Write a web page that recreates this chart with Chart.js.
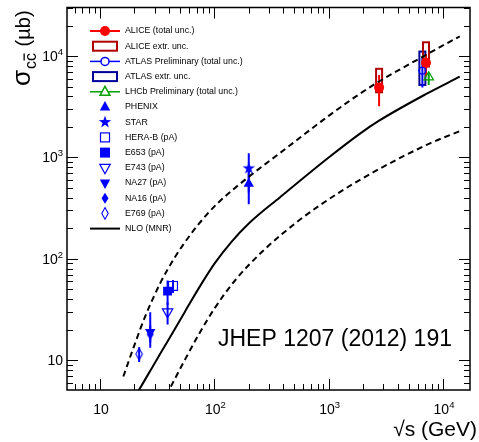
<!DOCTYPE html>
<html><head><meta charset="utf-8">
<script src="https://cdn.jsdelivr.net/npm/chart.js@4.4.0/dist/chart.umd.min.js"></script>
<style>html,body{margin:0;padding:0;background:#fff;}#wrap{width:479px;height:442px;position:relative;}</style>
</head><body><div id="wrap"><canvas id="c" width="479" height="442"></canvas></div>
<script>
// ---- tick labels ----
const xTickValues = [10, 100, 1000, 10000];
const xTickExp = ['', '2', '3', '4'];
const yTickValues = [10, 100, 1000, 10000];
const yTickExp = ['', '2', '3', '4'];

// ---- NLO (MNR) curves: sqrt(s) [GeV], sigma [ub] ----
const nloE = [20, 22.4, 30, 40, 55, 75, 101, 140, 200, 376, 1000, 1880, 2760, 7000, 14000];
const nloCentral = [4.3, 5.3, 9.3, 16.1, 29.8, 53.8, 90.6, 145.5, 223, 406, 1000, 1722, 2307, 4188, 6266];
const nloUpE = [16, 20, 24.8, 33.5, 45, 61, 85, 112, 200, 376, 1000, 1880, 2760, 7000, 14000];
const nloUp = [6.9, 14.1, 26.9, 57, 103, 170, 270, 372, 645, 1109, 2575, 4266, 5623, 10200, 15700];
const nloLoE = [38, 41, 55, 75, 100, 151, 267, 562, 1260, 2760, 7700, 14000];
const nloLo = [4.48, 5.3, 9.98, 18.9, 32.2, 60.8, 120, 244, 458, 769, 1380, 1820];

// ---- measurements ----
const aliceE = [2760, 7100], aliceV = [4900, 8600], aliceLo = [3200, 6300], aliceHi = [6500, 10500];
const aliceExtrLo = [4400, 7900], aliceExtrHi = [7500, 13700];
const atlasE = [6600], atlasV = [7200], atlasLo = [4900], atlasHi = [9600];
const atlasExtrLo = [5200], atlasExtrHi = [11100];
const lhcbE = [7500], lhcbV = [6200], lhcbLo = [5200], lhcbHi = [6900];
const phenixE = [200], phenixV = [550], phenixLo = [345], phenixHi = [760];
const starE = [200], starV = [790], starLo = [450], starHi = [1100];
const herabE = [43.5], herabV = [54], herabLo = [46], herabHi = [62];
const e653E = [39], e653V = [48], e653Lo = [35], e653Hi = [61];
const e743E = [39], e743V = [30], e743Lo = [22.5], e743Hi = [37];
const na27E = [27.5], na27V = [19], na27Lo = [13.3], na27Hi = [29.8];
const na16E = [27.5], na16V = [18], na16Lo = [15], na16Hi = [22];
const e769E = [22], e769V = [11.5], e769Lo = [9.6], e769Hi = [13.4];

const legendLabels = ['ALICE (total unc.)', 'ALICE extr. unc.', 'ATLAS Preliminary (total unc.)', 'ATLAS extr. unc.',
  'LHCb Preliminary (total unc.)', 'PHENIX', 'STAR', 'HERA-B (pA)', 'E653 (pA)', 'E743 (pA)', 'NA27 (pA)',
  'NA16 (pA)', 'E769 (pA)', 'NLO (MNR)'];

const BLUE = '#0000ff', RED = '#ff0000', DRED = '#b00000', NAVY = '#000099', GREEN = '#00a000';
const FONT = '"Liberation Sans", Arial, sans-serif';

function starPath(ctx, x, y, ro, ri) {
  ctx.beginPath();
  for (let i = 0; i < 10; i++) {
    const r = i % 2 ? ri : ro, a = -Math.PI / 2 + i * Math.PI / 5;
    ctx.lineTo(x + r * Math.cos(a), y + r * Math.sin(a));
  }
  ctx.closePath();
}
function diamondPath(ctx, x, y, hw, hh) {
  ctx.beginPath(); ctx.moveTo(x, y - hh); ctx.lineTo(x + hw, y); ctx.lineTo(x, y + hh); ctx.lineTo(x - hw, y); ctx.closePath();
}
function makeImg(w, h, fn) { const c = document.createElement('canvas'); c.width = w; c.height = h; fn(c.getContext('2d'), w / 2, h / 2); return c; }
const starImg = makeImg(14, 14, (g, cx, cy) => { g.fillStyle = BLUE; starPath(g, cx, cy + 0.5, 6.5, 2.6); g.fill(); });
const diaFillImg = makeImg(10, 14, (g, cx, cy) => { g.fillStyle = BLUE; diamondPath(g, cx, cy, 3.5, 5.5); g.fill(); });
const diaOpenImg = makeImg(10, 14, (g, cx, cy) => { g.strokeStyle = BLUE; g.lineWidth = 1.1; diamondPath(g, cx, cy, 3.2, 5.8); g.stroke(); });

const pts = (E, V) => E.map((x, i) => ({ x, y: V[i] }));
function pds(label, E, V, lo, hi, style, extra) {
  return Object.assign({ label, data: pts(E, V), showLine: false, errLo: lo, errHi: hi, errColor: style.errColor || BLUE, errWidth: 2 },
    { pointStyle: style.ps, pointRadius: style.r, pointHoverRadius: style.r, pointRotation: style.rot || 0,
      pointBackgroundColor: style.fill, pointBorderColor: style.stroke, pointBorderWidth: style.bw || 0 }, extra || {});
}
const datasets = [
  pds('ALICE', aliceE, aliceV, aliceLo, aliceHi, { ps: 'circle', r: 5, fill: RED, stroke: RED, errColor: RED }, { boxLo: aliceExtrLo, boxHi: aliceExtrHi, boxColor: DRED, boxOrder: 2 }),
  pds('ATLAS', atlasE, atlasV, atlasLo, atlasHi, { ps: 'circle', r: 3.5, fill: 'rgba(255,255,255,0)', stroke: BLUE, bw: 1.3 }, { boxLo: atlasExtrLo, boxHi: atlasExtrHi, boxColor: NAVY, boxOrder: 1 }),
  pds('LHCb', lhcbE, lhcbV, lhcbLo, lhcbHi, { ps: 'triangle', r: 5.5, fill: 'rgba(255,255,255,0)', stroke: GREEN, bw: 1.2, errColor: GREEN }),
  pds('PHENIX', phenixE, phenixV, phenixLo, phenixHi, { ps: 'triangle', r: 6, fill: BLUE, stroke: BLUE }),
  pds('STAR', starE, starV, starLo, starHi, { ps: starImg, r: 6, fill: BLUE, stroke: BLUE }),
  pds('HERA-B', herabE, herabV, herabLo, herabHi, { ps: 'rect', r: 6.3, fill: 'rgba(255,255,255,0)', stroke: BLUE, bw: 1.2 }),
  pds('E653', e653E, e653V, e653Lo, e653Hi, { ps: 'rect', r: 6.3, fill: BLUE, stroke: BLUE }),
  pds('E743', e743E, e743V, e743Lo, e743Hi, { ps: 'triangle', r: 6, rot: 180, fill: 'rgba(255,255,255,0)', stroke: BLUE, bw: 1.2 }),
  pds('NA27', na27E, na27V, na27Lo, na27Hi, { ps: 'triangle', r: 6, rot: 180, fill: BLUE, stroke: BLUE }),
  pds('NA16', na16E, na16V, na16Lo, na16Hi, { ps: diaFillImg, r: 5, fill: BLUE, stroke: BLUE }),
  pds('E769', e769E, e769V, e769Lo, e769Hi, { ps: diaOpenImg, r: 5, fill: BLUE, stroke: BLUE }),
  { label: 'NLO', data: pts(nloE, nloCentral), showLine: true, borderColor: '#000', borderWidth: 2, pointRadius: 0, cubicInterpolationMode: 'monotone' },
  { label: 'NLO up', data: pts(nloUpE, nloUp), showLine: true, borderColor: '#000', borderWidth: 2, borderDash: [6, 4], pointRadius: 0, cubicInterpolationMode: 'monotone' },
  { label: 'NLO low', data: pts(nloLoE, nloLo), showLine: true, borderColor: '#000', borderWidth: 2, borderDash: [6, 4], pointRadius: 0, cubicInterpolationMode: 'monotone' }
];

function drawLabel(ctx, base, exp, x, y, align) {
  ctx.font = '14px ' + FONT;
  const wb = ctx.measureText(base).width;
  ctx.font = '9.5px ' + FONT;
  const we = exp ? ctx.measureText(exp).width : 0;
  const tot = wb + we;
  let sx = align === 'center' ? x - tot / 2 : x - tot;
  ctx.textAlign = 'left'; ctx.textBaseline = 'alphabetic';
  ctx.font = '14px ' + FONT; ctx.fillText(base, sx, y);
  if (exp) { ctx.font = '9.5px ' + FONT; ctx.fillText(exp, sx + wb, y - 6); }
}

const errPlugin = {
  id: 'errs',
  beforeDatasetsDraw(chart) {
    const ctx = chart.ctx, xs = chart.scales.x, ys = chart.scales.y, a = chart.chartArea;
    ctx.save();
    ctx.beginPath(); ctx.rect(a.left, a.top, a.right - a.left, a.bottom - a.top); ctx.clip();
    const list = chart.data.datasets.filter(d => d.errLo);
    list.sort((p, q) => (p.boxOrder || 0) - (q.boxOrder || 0));
    for (const d of list) {
      d.data.forEach((p, k) => {
        const px = xs.getPixelForValue(p.x);
        if (d.boxLo) {
          const t = ys.getPixelForValue(d.boxHi[k]), b = ys.getPixelForValue(d.boxLo[k]);
          ctx.strokeStyle = d.boxColor; ctx.lineWidth = 2;
          ctx.strokeRect(px - 3, t, 6, b - t);
        }
        ctx.strokeStyle = d.errColor; ctx.lineWidth = d.errWidth;
        ctx.beginPath(); ctx.moveTo(px, ys.getPixelForValue(d.errLo[k])); ctx.lineTo(px, ys.getPixelForValue(d.errHi[k])); ctx.stroke();
      });
    }
    ctx.restore();
  },
  afterDraw(chart) {
    const ctx = chart.ctx, xs = chart.scales.x, ys = chart.scales.y, a = chart.chartArea;
    ctx.save();
    ctx.strokeStyle = '#000'; ctx.lineWidth = 1.5;
    ctx.strokeRect(a.left, a.top, a.right - a.left, a.bottom - a.top);
    ctx.lineWidth = 1;
    for (let d = 0; d <= 4; d++) for (let m = 1; m <= 9; m++) {
      const v = m * Math.pow(10, d);
      const L = m === 1 ? 11 : 6;
      if (v > xs.min && v < xs.max) {
        const px = Math.round(xs.getPixelForValue(v)) + 0.5;
        ctx.beginPath(); ctx.moveTo(px, a.bottom); ctx.lineTo(px, a.bottom - L);
        ctx.moveTo(px, a.top); ctx.lineTo(px, a.top + L); ctx.stroke();
      }
      if (v > ys.min && v < ys.max) {
        const py = Math.round(ys.getPixelForValue(v)) + 0.5;
        ctx.beginPath(); ctx.moveTo(a.left, py); ctx.lineTo(a.left + L, py);
        ctx.moveTo(a.right, py); ctx.lineTo(a.right - L, py); ctx.stroke();
      }
    }
    ctx.fillStyle = '#000';
    xTickValues.forEach((v, i) => drawLabel(ctx, '10', xTickExp[i], xs.getPixelForValue(v) + 1, 414, 'center'));
    yTickValues.forEach((v, i) => drawLabel(ctx, '10', yTickExp[i], 63, ys.getPixelForValue(v) + 5, 'right'));
    ctx.font = '21px ' + FONT; ctx.textAlign = 'right'; ctx.fillText('\u221As (GeV)', 477, 436);
    ctx.save();
    ctx.translate(30, 86); ctx.rotate(-Math.PI / 2);
    ctx.textAlign = 'left';
    ctx.font = '26px ' + FONT; ctx.fillText('\u03C3', 0, 0);
    let w = ctx.measureText('\u03C3').width;
    ctx.font = '16px ' + FONT;
    const wc = ctx.measureText('c').width;
    ctx.fillText('cc', w + 1, 6);
    ctx.fillRect(w + 1 + wc + 0.5, 6 - 12.5, wc - 1, 1.3);
    w += 1 + 2 * wc;
    ctx.font = '20px ' + FONT; ctx.fillText(' (\u00B5b)', w + 1, 0);
    ctx.restore();
    ctx.font = '23px ' + FONT; ctx.textAlign = 'left'; ctx.fillText('JHEP 1207 (2012) 191', 218, 346);
    const mx = 105;
    legendLabels.forEach((lab, i) => {
      const y = 31 + 15.2 * i;
      ctx.save();
      ctx.lineWidth = 1.2;
      switch (i) {
        case 0: ctx.strokeStyle = RED; ctx.lineWidth = 2; ctx.beginPath(); ctx.moveTo(90, y); ctx.lineTo(120, y); ctx.stroke();
          ctx.fillStyle = RED; ctx.beginPath(); ctx.arc(mx, y, 5, 0, 2 * Math.PI); ctx.fill(); break;
        case 1: ctx.strokeStyle = DRED; ctx.lineWidth = 2; ctx.strokeRect(93, y - 4.5, 24, 9); break;
        case 2: ctx.strokeStyle = BLUE; ctx.lineWidth = 1.5; ctx.beginPath(); ctx.moveTo(90, y); ctx.lineTo(120, y); ctx.stroke();
          ctx.fillStyle = '#fff'; ctx.beginPath(); ctx.arc(mx, y, 4, 0, 2 * Math.PI); ctx.fill(); ctx.stroke(); break;
        case 3: ctx.strokeStyle = NAVY; ctx.lineWidth = 2; ctx.strokeRect(93, y - 4.5, 24, 9); break;
        case 4: ctx.strokeStyle = GREEN; ctx.lineWidth = 1.5; ctx.beginPath(); ctx.moveTo(90, y); ctx.lineTo(120, y); ctx.stroke();
          ctx.fillStyle = '#fff'; ctx.beginPath(); ctx.moveTo(mx, y - 5.5); ctx.lineTo(mx + 5, y + 3.5); ctx.lineTo(mx - 5, y + 3.5); ctx.closePath(); ctx.fill(); ctx.stroke(); break;
        case 5: ctx.fillStyle = BLUE; ctx.beginPath(); ctx.moveTo(mx, y - 6); ctx.lineTo(mx + 5.2, y + 3.5); ctx.lineTo(mx - 5.2, y + 3.5); ctx.closePath(); ctx.fill(); break;
        case 6: ctx.fillStyle = BLUE; starPath(ctx, mx, y, 6.5, 2.6); ctx.fill(); break;
        case 7: ctx.strokeStyle = BLUE; ctx.strokeRect(mx - 4.5, y - 4.5, 9, 9); break;
        case 8: ctx.fillStyle = BLUE; ctx.fillRect(mx - 5, y - 5, 10, 10); break;
        case 9: ctx.strokeStyle = BLUE; ctx.beginPath(); ctx.moveTo(mx, y + 6); ctx.lineTo(mx + 5.2, y - 3.5); ctx.lineTo(mx - 5.2, y - 3.5); ctx.closePath(); ctx.stroke(); break;
        case 10: ctx.fillStyle = BLUE; ctx.beginPath(); ctx.moveTo(mx, y + 6); ctx.lineTo(mx + 5.2, y - 3.5); ctx.lineTo(mx - 5.2, y - 3.5); ctx.closePath(); ctx.fill(); break;
        case 11: ctx.fillStyle = BLUE; diamondPath(ctx, mx, y, 3.5, 5.5); ctx.fill(); break;
        case 12: ctx.strokeStyle = BLUE; ctx.lineWidth = 1.1; diamondPath(ctx, mx, y, 3.2, 5.8); ctx.stroke(); break;
        case 13: ctx.strokeStyle = '#000'; ctx.lineWidth = 2; ctx.beginPath(); ctx.moveTo(90, y); ctx.lineTo(120, y); ctx.stroke(); break;
      }
      ctx.restore();
      ctx.fillStyle = '#000'; ctx.font = '8.8px ' + FONT; ctx.textAlign = 'left'; ctx.textBaseline = 'middle';
      ctx.fillText(lab, 125, y);
    });
    ctx.restore();
  }
};

new Chart(document.getElementById('c'), {
  type: 'scatter',
  data: { datasets },
  options: {
    responsive: false, animation: false, devicePixelRatio: 1,
    layout: { padding: { left: 67, top: 5, right: 9, bottom: 52 } },
    plugins: { legend: { display: false }, tooltip: { enabled: false } },
    scales: {
      x: { type: 'logarithmic', min: 5.144, max: 17220, display: false },
      y: { type: 'logarithmic', min: 5.08, max: 30200, display: false }
    }
  },
  plugins: [errPlugin]
});
</script></body></html>
